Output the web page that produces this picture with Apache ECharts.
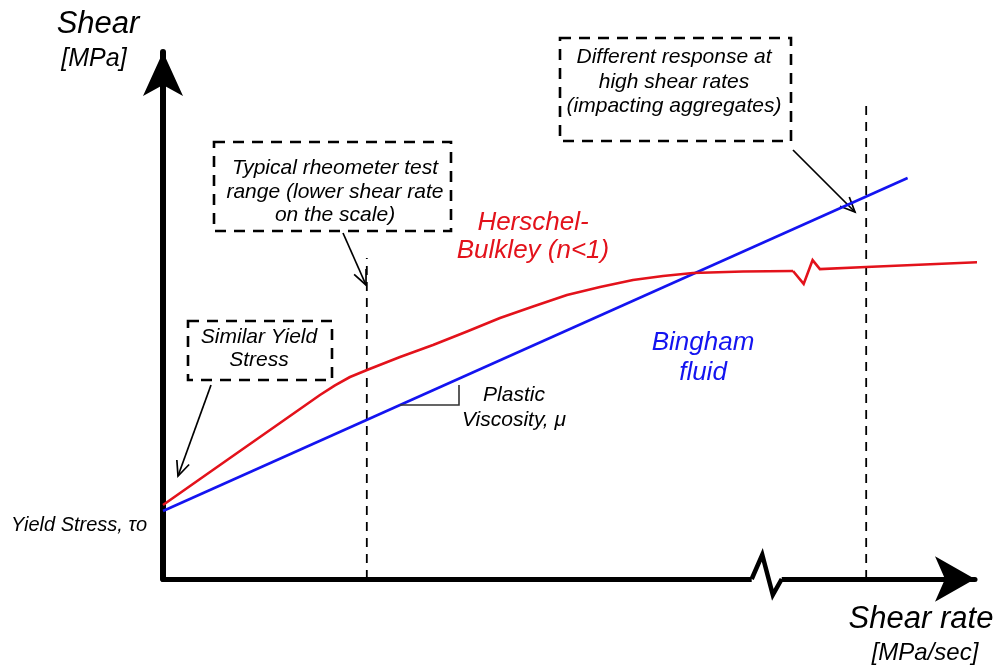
<!DOCTYPE html>
<html lang="en">
<head>
    <meta charset="UTF-8" />
    <title>Bingham vs Herschel-Bulkley</title>
    <script src="https://cdn.jsdelivr.net/npm/echarts@6/dist/echarts.min.js"></script>
    <style>
        html, body { margin: 0; padding: 0; background: #fff; }
    </style>
</head>
<body>
    <div id="main" style="width: 998px; height: 669px;"></div>

    <script>
        // schematic units: shear rate 0..100, shear 0..100
        const hbRate  = [0, 4.56, 9.48, 14.41, 19.33, 21.18, 23.03, 25.12, 29.19, 33.25, 37.44, 41.5,
                         45.57, 49.75, 53.82, 57.88, 61.58, 65.27, 71.43, 77.59];
        const hbShear = [14.04, 18.98, 24.29, 29.6, 34.91, 36.75, 38.33, 39.66, 42.13, 44.4, 46.96, 49.53,
                         51.71, 53.89, 55.41, 56.74, 57.5, 58.06, 58.35, 58.44];
        // red curve after the break mark
        const hbTailRate  = [77.59, 78.9, 80.0, 80.9, 86.6, 101.6];
        const hbTailShear = [58.44, 56.0, 60.5, 58.8, 59.2, 60.2];
        const binghamRate  = [0, 91.7];
        const binghamShear = [12.9, 76.1];
        const testRangeRate = 25.1;
        const highRate = 86.6;
        const testRangeTop = 60.9;
        const highRateTop = 90.9;
        const breakRate  = [72.5, 73.8, 75.1, 76.2];
        const breakShear = [0, 4.6, -3.0, 0];

        const font = '"Liberation Sans", Arial, sans-serif';
        const pair = (xs, ys) => xs.map((x, i) => [x, ys[i]]);

        function arrow(x1, y1, x2, y2) {
            const a = Math.atan2(y2 - y1, x2 - x1), len = 16, sp = 0.42;
            return {
                type: 'group', z: 120,
                children: [
                    { type: 'polyline', shape: { points: [[x1, y1], [x2, y2]] },
                      style: { stroke: '#000', lineWidth: 1.7, fill: 'none' } },
                    { type: 'polyline', shape: { points: [
                        [x2 - len * Math.cos(a - sp), y2 - len * Math.sin(a - sp)],
                        [x2, y2],
                        [x2 - len * Math.cos(a + sp), y2 - len * Math.sin(a + sp)]] },
                      style: { stroke: '#000', lineWidth: 1.7, fill: 'none' } }
                ]
            };
        }
        function box(x, y, w, h) {
            return { type: 'rect', z: 110, shape: { x: x, y: y, width: w, height: h },
                style: { fill: 'none', stroke: '#000', lineWidth: 2.6, lineDash: [11, 8] } };
        }
        function label(text, x, y, size, color, lh) {
            return { type: 'text', z: 120, style: {
                text: text, x: x, y: y, font: 'italic ' + size + 'px ' + font,
                fill: color || '#000', textAlign: 'center', textVerticalAlign: 'middle',
                lineHeight: lh || size * 1.3 } };
        }

        const myChart = echarts.init(document.getElementById('main'));

        const options = {
            animation: false,
            grid: { left: 163, right: 23, top: 52, bottom: 90 },
            xAxis: {
                type: 'value', min: 0, max: 100,
                axisLine: { show: true, symbol: ['none', 'arrow'], symbolSize: [34, 40],
                    lineStyle: { color: '#000', width: 5 } },
                axisTick: { show: false }, axisLabel: { show: false }, splitLine: { show: false }
            },
            yAxis: {
                type: 'value', min: 0, max: 100,
                axisLine: { show: true, symbol: ['none', 'arrow'], symbolSize: [30, 44],
                    lineStyle: { color: '#000', width: 6 } },
                axisTick: { show: false }, axisLabel: { show: false }, splitLine: { show: false }
            },
            series: [
                {
                    type: 'line', data: [[testRangeRate, 0], [testRangeRate, testRangeTop]],
                    symbol: 'none', lineStyle: { color: '#000', width: 1.8, type: [9, 7] }, z: 2
                },
                {
                    type: 'line', data: [[highRate, 0], [highRate, highRateTop]],
                    symbol: 'none', lineStyle: { color: '#000', width: 1.8, type: [9, 7] }, z: 2
                },
                {
                    name: 'Bingham', type: 'line', data: pair(binghamRate, binghamShear),
                    symbol: 'none', lineStyle: { color: '#1414f0', width: 2.6 }, z: 3
                },
                {
                    name: 'Herschel-Bulkley', type: 'line', data: pair(hbRate, hbShear),
                    symbol: 'none', smooth: false,
                    lineStyle: { color: '#e3121b', width: 2.6, join: 'round' }, z: 4
                },
                {
                    name: 'Herschel-Bulkley', type: 'line', data: pair(hbTailRate, hbTailShear),
                    symbol: 'none', clip: false,
                    lineStyle: { color: '#e3121b', width: 2.6, join: 'miter' }, z: 4
                },
                {
                    type: 'line', data: [[breakRate[0], 0], [breakRate[3], 0]], clip: false,
                    symbol: 'none', lineStyle: { color: '#fff', width: 9 }, z: 5
                },
                {
                    type: 'line', data: pair(breakRate, breakShear), clip: false,
                    symbol: 'none', lineStyle: { color: '#000', width: 4.5, join: 'miter' }, z: 6
                }
            ],
            graphic: [
                label('Shear', 98, 24, 31),
                label('[MPa]', 94, 59, 25),
                label('Shear rate', 921, 619, 31),
                label('[MPa/sec]', 925, 653, 24),
                { type: 'text', z: 120, style: { text: 'Yield Stress, τo', x: 11, y: 525,
                    font: 'italic 20px ' + font, fill: '#000', textAlign: 'left', textVerticalAlign: 'middle' } },
                box(214, 142, 237, 89),
                label('Typical rheometer test\nrange (lower shear rate\non the scale)', 335, 192, 21, '#000', 23.5),
                box(188, 321, 144, 59),
                label('Similar Yield\nStress', 259, 349, 21, '#000', 23),
                box(560, 38, 231, 103),
                label('Different response at\nhigh shear rates\n(impacting aggregates)', 674, 82, 21, '#000', 24.5),
                arrow(211, 385, 178, 476),
                arrow(343, 233, 366, 285),
                arrow(793, 150, 855, 212),
                label('Herschel-\nBulkley (n<1)', 533, 237, 26, '#e3121b', 28),
                label('Bingham\nfluid', 703, 358, 26, '#1414f0', 30),
                label('Plastic\nViscosity, μ', 514, 408, 21, '#000', 25),
                { type: 'polyline', z: 115, shape: { points: [[400, 405], [459, 405], [459, 385]] },
                  style: { stroke: '#333', lineWidth: 1.6, fill: 'none' } }
            ]
        };

        myChart.setOption(options);
    </script>
</body>
</html>
